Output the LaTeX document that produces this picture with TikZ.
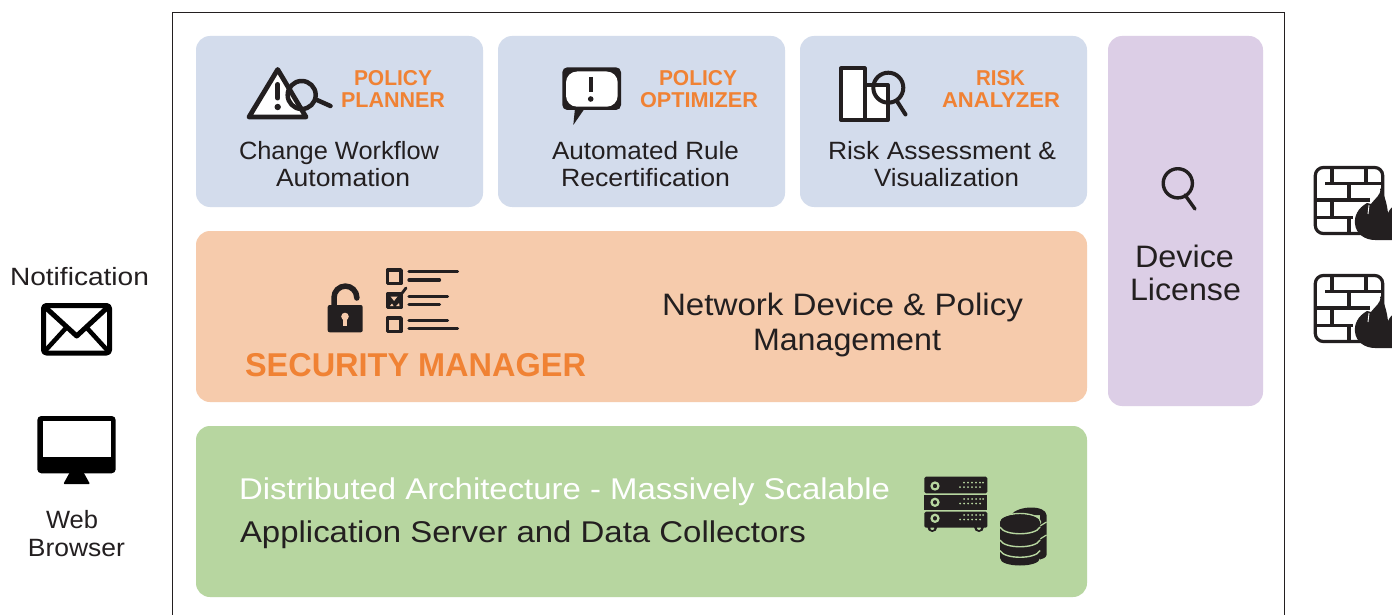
\documentclass[tikz,border=0pt]{standalone}
\usepackage{graphicx}
\usepackage{fontspec}
\setmainfont{Liberation Sans}
\definecolor{ink}{HTML}{231F20}
\definecolor{panelblue}{HTML}{D3DCEC}
\definecolor{panelorange}{HTML}{F6CBAC}
\definecolor{panelgreen}{HTML}{B7D6A0}
\definecolor{panelpurple}{HTML}{DCCEE6}
\definecolor{accent}{HTML}{F08234}
\newsavebox{\fitbox}
\newcommand{\fit}[2]{\sbox{\fitbox}{#2}\pgfmathsetmacro{\fitr}{#1/\the\wd\fitbox}\scalebox{\fitr}[1]{\usebox{\fitbox}}}
\tikzset{
  panel/.style={rounded corners=14pt,draw=none},
  body/.style={text=ink,anchor=base,inner sep=0pt,font=\fontsize{#1}{#1}\selectfont},
  head/.style={text=accent,anchor=base,inner sep=0pt,font=\bfseries\fontsize{#1}{#1}\selectfont},
  line/.style={draw=ink,line width=#1,line cap=round,line join=round},
  line/.default=4pt
}
\newcommand{\firewall}[1]{%
\begin{scope}[yshift=-#1pt]
 \draw[line=3.2pt,rounded corners=8pt] (1315.3,167.5) rectangle (1382.7,233.5);
 \draw[line=3.2pt,line cap=butt] (1325,183.3)--(1382,183.3) (1316,200)--(1370,200) (1316,217.7)--(1353,217.7)
  (1332,167)--(1332,183.3) (1366,167)--(1366,183.3) (1349,183.3)--(1349,200) (1332,200)--(1332,217.7) (1349,217.7)--(1349,233);
 \fill[ink] (1380,188) .. controls (1382,195) and (1374,199) .. (1371,204) -- (1367,203)
   .. controls (1358,208) and (1354,216) .. (1355,224)
   .. controls (1356,234) and (1365,240) .. (1375,240) -- (1395,240) -- (1395,205) .. controls (1392,207) and (1389,210) .. (1388,213)
   .. controls (1387,205) and (1385,195) .. (1380,188) -- cycle;
 \draw[white,line width=0.9pt] (1369,205)--(1368,214);
\end{scope}}
\begin{document}
\begin{tikzpicture}[x=1pt,y=-1pt]
\useasboundingbox (0,0) rectangle (1392,615);
\fill[white] (0,0) rectangle (1392,615);
\draw[ink,line width=1pt] (172,13) rectangle (1284,630);
% panels
\fill[panel,panelblue] (196,36) rectangle (483,207);
\fill[panel,panelblue] (498,36) rectangle (785,207);
\fill[panel,panelblue] (800,36) rectangle (1087,207);
\fill[panel,panelorange] (196,231) rectangle (1087,402);
\fill[panel,panelgreen] (196,426) rectangle (1087,597);
\fill[panel,panelpurple] (1108,36) rectangle (1263,406);
% headings
\node[head=21.5] (ppa) at (393,85.5) {\fit{78}{POLICY}};
\node[head=21.5] (ppb) at (393,107.5) {\fit{104}{PLANNER}};
\node[head=21.5] (poa) at (698,85.5) {\fit{78}{POLICY}};
\node[head=21.5] (pob) at (699,107.5) {\fit{118}{OPTIMIZER}};
\node[head=21.5] (raa) at (1000.5,85.5) {\fit{49}{RISK}};
\node[head=21.5] (rab) at (1001,107.5) {\fit{118}{ANALYZER}};
\node[head=33] (secm) at (415.5,376.5) {\fit{341}{SECURITY MANAGER}};
% body text
\node[body=25] (t1a) at (339,159.5) {\fit{200}{Change Workflow}};
\node[body=25] (t1b) at (343,186.7) {\fit{134}{Automation}};
\node[body=25] (t2a) at (645.5,159.5) {\fit{187}{Automated Rule}};
\node[body=25] (t2b) at (645.5,186.7) {\fit{169}{Recertification}};
\node[body=25] (t3a) at (942,159.5) {\fit{228}{Risk Assessment \&}};
\node[body=25] (t3b) at (946.5,186.7) {\fit{145}{Visualization}};
\node[body=31] (t4a) at (842.5,315.5) {\fit{361}{Network Device \& Policy}};
\node[body=31] (t4b) at (847,350) {\fit{188}{Management}};
\node[body=30,text=white] (t6) at (564.5,499) {\fit{651}{Distributed Architecture - Massively Scalable}};
\node[body=30] (t7) at (523,542) {\fit{566}{Application Server and Data Collectors}};
\node[body=31] (t8a) at (1184.5,267.3) {\fit{99}{Device}};
\node[body=31] (t8b) at (1185.5,300) {\fit{111}{License}};
\node[body=25] (t9) at (79.5,285) {\fit{139}{Notification}};
\node[body=25] (t10a) at (72,528) {\fit{52}{Web}};
\node[body=25] (t10b) at (76.5,556) {\fit{97}{Browser}};
% warning icon
\draw[line=4.8pt,fill=white] (277.7,69.5)--(249,117)--(306,117)--cycle;
\draw[line=5pt] (277.7,84.5)--(277.7,98);
\fill[ink] (277.7,107) circle (3.2pt);
\draw[line=4.5pt] (301.7,95) circle (14pt);
\draw[line=4.5pt] (317,100)--(330.5,106);
% bubble icon
\fill[ink,rounded corners=5pt] (562.3,67.3) rectangle (621,110);
\fill[ink] (575,108)--(573.3,125)--(585,108)--cycle;
\fill[white,rounded corners=11pt] (566,71.5) rectangle (617.7,106.7);
\draw[line=4pt,line cap=butt] (590.7,77)--(590.7,92);
\fill[ink] (590.7,99) circle (2.8pt);
% bars icon
\draw[line=4pt,fill=white] (841,68.5) rectangle (864.5,120);
\draw[line=4pt,fill=white] (864.5,85) rectangle (888,120);
\draw[line=4pt] (888.3,87.7) circle (15pt);
\draw[line=4pt] (897.3,101.7)--(905.5,114.5);
% lens in purple panel
\draw[line=3.4pt] (1177.8,183.3) circle (14.6pt);
\draw[line=3.4pt] (1185,195)--(1195,209);
% lock
\fill[ink,rounded corners=2pt] (327.7,305) rectangle (362.7,332.3);
\draw[line=5.5pt] (334,306) -- (334,297.5) arc[start angle=180,end angle=0,radius=11.4pt] -- ++(0,0.5);
\fill[panelorange] (345,316.5) circle (3.8pt);
\fill[panelorange] (343,317) rectangle (347,326);
% checklist
\draw[line=3.8pt] (387.5,270) rectangle (401,283.5);
\draw[line=3.8pt,fill=ink] (387.5,294) rectangle (401,307.5);
\draw[line=3.8pt] (387.5,318) rectangle (401,331.5);
\fill[panelorange] (390.5,296.5)--(398,296.5)--(394.5,301.5)--cycle;
\fill[panelorange] (390,306)--(392,303.5)--(393.5,306)--cycle (396,306)--(399,303)--(399.5,306)--cycle;
\draw[line=2.8pt] (394.5,303)--(406,288);
\draw[line=3.3pt] (409,271.7)--(457.5,271.7) (409,280)--(439.5,280) (409,296.3)--(447.5,296.3)
  (409,304.3)--(439.5,304.3) (409,320.7)--(447.5,320.7) (409,328.3)--(457.5,328.3);
% server
\fill[ink] (932.3,527) circle (5pt) (979,527) circle (5pt);
\fill[panelgreen] (932.3,528) circle (2pt) (979,528) circle (2pt);
\fill[ink,rounded corners=1.5pt] (924.3,476.7) rectangle (987.3,493.3);
\fill[ink] (924.3,495.3) rectangle (987.3,510);
\fill[ink,rounded corners=1.5pt] (924.3,511.7) rectangle (987.3,527.7);
\foreach \yy in {486,502.3,518.3}{
  \draw[panelgreen,line width=2.2pt] (935,\yy) circle (3.5pt);
  \foreach \xx in {964,968,972,976,980,983}{\fill[panelgreen] (\xx,\yy-3.3) circle (1pt);}
  \foreach \xx in {960,964,968,972,976,980}{\fill[panelgreen] (\xx,\yy+1.2) circle (1pt);}
}
% database
\fill[ink] (1011,515) .. controls (1018,505) and (1046,505) .. (1046.5,515) -- (1046.5,555) .. controls (1046,558) and (1042,559) .. (1040,559.5) -- (1040,515) -- cycle;
\draw[panelgreen,line width=1.2pt] (1040,526) -- (1046.5,522) (1040,539) -- (1046.5,535);
\draw[panelgreen,line width=1.4pt,fill=ink] (1020,522) ellipse[x radius=20.5,y radius=8.5];
\fill[ink] (1000,522) -- (1000,558) .. controls (1000,568) and (1040,568) .. (1040,558) -- (1040,522) -- cycle;
\fill[ink] (1020,522) ellipse[x radius=20,y radius=7.5];
\draw[panelgreen,line width=1.4pt] (1000,527) .. controls (1004,536) and (1036,536) .. (1040,527);
\draw[panelgreen,line width=1.4pt] (1000,540) .. controls (1004,549) and (1036,549) .. (1040,540);
\draw[panelgreen,line width=1.4pt] (1000,550.5) .. controls (1004,559.5) and (1036,559.5) .. (1040,550.5);
% firewalls
\firewall{0}
\firewall{108}
% envelope
\draw[draw=black,line width=5pt,line join=round,rounded corners=3pt] (43.5,305.5) rectangle (109.5,353);
\draw[black,line width=5pt,line join=round] (45,307)--(76.7,336)--(108,307);
\draw[black,line width=4.5pt] (45,351)--(66,328) (108,351)--(87,328);
% monitor
\fill[black,rounded corners=4pt] (37.3,416) rectangle (115.7,473.3);
\fill[white] (42.7,421) rectangle (110.7,457.3);
\fill[black,rounded corners=1pt] (70,472)--(83.3,472)--(90,484)--(63.3,484)--cycle;
\end{tikzpicture}
\end{document}
